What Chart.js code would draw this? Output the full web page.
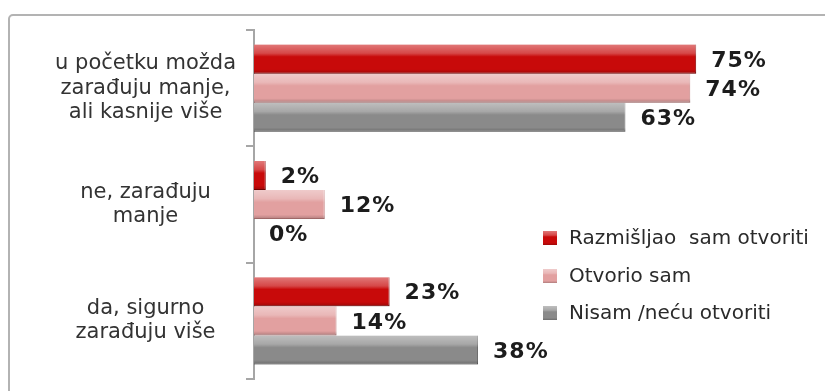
<!DOCTYPE html>
<html>
<head>
<meta charset="utf-8">
<script src="https://cdn.jsdelivr.net/npm/chart.js@4.4.1/dist/chart.umd.min.js"></script>
<style>
  html, body { margin: 0; padding: 0; background: #fff; overflow: hidden; }
  #chart { display: block; }
</style>
</head>
<body>
<canvas id="chart" width="825" height="391"></canvas>
<script>
// answers (category labels split into lines)
const categories = [
    ['u početku možda', 'zarađuju manje,', 'ali kasnije više'],
    ['ne, zarađuju', 'manje'],
    ['da, sigurno', 'zarađuju više']
];
const seriesNames = ['Razmišljao  sam otvoriti', 'Otvorio sam', 'Nisam /neću otvoriti'];
const thoughtAbout = [75, 2, 23];
const opened = [74, 12, 14];
const notOpening = [63, 0, 38];

const barColors = ['#c80a0a', '#e2a0a0', '#8a8a8a'];
const edgeColors = ['#8a0000', '#c58080', '#686868'];

// glossy look: light band on top, darker bottom edge
function shade(ctx, x0, x1, top, h) {
    const g = ctx.createLinearGradient(0, top, 0, top + h);
    g.addColorStop(0, 'rgba(255,255,255,0.45)');
    g.addColorStop(0.3, 'rgba(255,255,255,0.25)');
    g.addColorStop(0.42, 'rgba(255,255,255,0)');
    g.addColorStop(0.85, 'rgba(0,0,0,0)');
    g.addColorStop(1, 'rgba(0,0,0,0.22)');
    ctx.fillStyle = g;
    ctx.fillRect(x0, top, x1 - x0, h);
}

// outer frame, open on the right and bottom
const frame = {
    id: 'frame',
    beforeDraw(chart) {
        const ctx = chart.ctx;
        ctx.save();
        ctx.strokeStyle = '#b3b3b3';
        ctx.lineWidth = 2;
        ctx.beginPath();
        ctx.moveTo(9, chart.height + 5);
        ctx.lineTo(9, 19);
        ctx.arcTo(9, 15, 13, 15, 4);
        ctx.lineTo(chart.width + 5, 15);
        ctx.stroke();
        ctx.restore();
    }
};

const barShine = {
    id: 'barShine',
    afterDatasetDraw(chart, args) {
        const ctx = chart.ctx;
        ctx.save();
        args.meta.data.forEach(bar => {
            if (bar.x - bar.base < 1) return;
            shade(ctx, bar.base, bar.x, bar.y - bar.height / 2, bar.height);
        });
        ctx.restore();
    }
};

const valueLabels = {
    id: 'valueLabels',
    afterDatasetsDraw(chart) {
        const ctx = chart.ctx;
        ctx.save();
        ctx.font = 'bold 22px "DejaVu Sans"';
        ctx.letterSpacing = '1px';
        ctx.fillStyle = '#1c1c1c';
        ctx.textBaseline = 'middle';
        chart.data.datasets.forEach((ds, i) => {
            chart.getDatasetMeta(i).data.forEach((bar, j) => {
                ctx.fillText(ds.data[j] + '%', bar.x + 15, bar.y + 2);
            });
        });
        ctx.restore();
    }
};

const sideLegend = {
    id: 'sideLegend',
    afterDraw(chart) {
        const ctx = chart.ctx;
        const rows = [238, 276, 313];
        ctx.save();
        ctx.font = '20px "DejaVu Sans"';
        ctx.textBaseline = 'middle';
        chart.data.datasets.forEach((ds, i) => {
            const y = rows[i];
            ctx.fillStyle = ds.backgroundColor;
            ctx.fillRect(543, y - 7, 14, 14);
            shade(ctx, 543, 557, y - 7, 14);
            ctx.fillStyle = '#2a2a2a';
            ctx.fillText(ds.label, 569, y + 1);
        });
        ctx.restore();
    }
};

const datasets = [thoughtAbout, opened, notOpening].map((values, i) => ({
    label: seriesNames[i],
    data: values,
    backgroundColor: barColors[i],
    borderColor: edgeColors[i],
    borderWidth: { top: 0, left: 0, right: 1, bottom: 1 },
    borderSkipped: 'start',
    categoryPercentage: 0.75,
    barPercentage: 1
}));

new Chart(document.getElementById('chart').getContext('2d'), {
    type: 'bar',
    data: { labels: categories, datasets: datasets },
    options: {
        indexAxis: 'y',
        responsive: false,
        animation: false,
        layout: { padding: { left: 0, right: 5, top: 30, bottom: 12 } },
        plugins: {
            legend: { display: false },
            tooltip: { enabled: false }
        },
        scales: {
            x: { display: false, min: 0, max: 96 },
            y: {
                afterFit: function (scale) {
                    scale.width = 254;
                    scale.paddingTop = 0;
                    scale.paddingBottom = 0;
                },
                border: { color: '#a6a6a6', width: 2 },
                grid: { drawOnChartArea: false, tickLength: 8, color: '#a6a6a6', lineWidth: 2, offset: true },
                ticks: {
                    crossAlign: 'center',
                    padding: 10,
                    color: '#333',
                    font: { family: 'DejaVu Sans', size: 21, lineHeight: 1.15 }
                }
            }
        }
    },
    plugins: [frame, barShine, valueLabels, sideLegend]
});
</script>
</body>
</html>
